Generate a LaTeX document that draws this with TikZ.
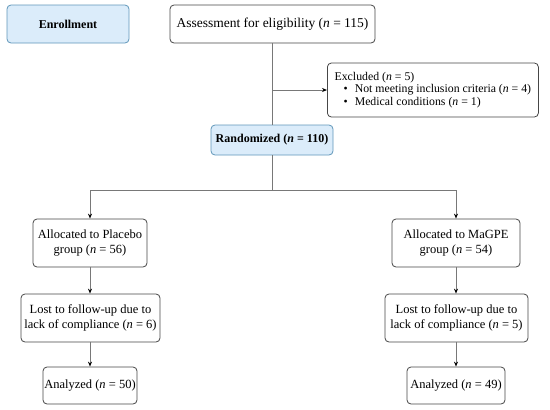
\documentclass[tikz,border=0pt]{standalone}
\usepackage{fontspec}
\setmainfont{Liberation Serif}
\usetikzlibrary{arrows.meta,positioning}
\definecolor{bluefill}{RGB}{219,236,250}
\definecolor{blueline}{RGB}{95,150,185}
\definecolor{boxline}{RGB}{70,70,70}
\definecolor{conn}{RGB}{120,120,120}
\tikzset{
  box/.style={draw=boxline, line width=0.8pt, rounded corners=4pt, fill=white, align=center, inner sep=0pt, font=\fontsize{12.5}{14.5}\selectfont},
  bluebox/.style={draw=blueline, line width=0.8pt, rounded corners=4pt, fill=bluefill, align=center, inner sep=0pt, font=\fontsize{12}{14}\selectfont\bfseries},
  conline/.style={draw=conn, line width=1pt},
  arr/.style={conline, -{Stealth[length=5pt,width=4pt,color=black]}}
}
\begin{document}
\begin{tikzpicture}[x=1pt,y=-1pt]
\useasboundingbox (0,0) rectangle (550,410);
\node[bluebox, minimum width=122pt, minimum height=38pt] (enr) at (68,24) {Enrollment};
\node[box, minimum width=205pt, minimum height=38pt, font=\fontsize{13.5}{15}\selectfont] (ass) at (272.5,24) {Assessment for eligibility (\textit{n} = 115)};
\node[box, minimum width=211pt, minimum height=54pt, align=left, anchor=west, inner xsep=4pt, font=\fontsize{11.8}{12.8}\selectfont] (exc) at (327,90) {Excluded (\textit{n} = 5)\\
\hspace*{9pt}\textbullet\hspace{7pt}Not meeting inclusion criteria (\textit{n} = 4)\\
\hspace*{9pt}\textbullet\hspace{7pt}Medical conditions (\textit{n} = 1)};
\node[bluebox, minimum width=122pt, minimum height=30pt] (ran) at (272,140) {Randomized (\textit{n} = 110)};
\coordinate (ex) at (272,90);
\coordinate (split) at (272,190);
\coordinate (sl) at (90,190);
\coordinate (sr) at (456,190);
\node[box, minimum width=114pt, minimum height=48pt] (pla) at (90,243) {Allocated to Placebo\\group (\textit{n} = 56)};
\node[box, minimum width=139pt, minimum height=48pt] (lpl) at (90.5,318) {Lost to follow-up due to\\lack of compliance (\textit{n} = 6)};
\node[box, minimum width=94pt, minimum height=37pt] (apl) at (90,385.5) {Analyzed (\textit{n} = 50)};
\node[box, minimum width=128pt, minimum height=48pt] (mag) at (456,243) {Allocated to MaGPE\\group (\textit{n} = 54)};
\node[box, minimum width=143pt, minimum height=48pt] (lmg) at (456.5,318) {Lost to follow-up due to\\lack of compliance (\textit{n} = 5)};
\node[box, minimum width=98pt, minimum height=37pt] (amg) at (456,385.5) {Analyzed (\textit{n} = 49)};
\draw[conline] (ass.south -| ran) -- (ran.north);
\draw[arr] (ex) -- (exc.west);
\draw[conline] (ran.south) -- (split);
\draw[conline] (sl) -- (sr);
\draw[arr] (sl) -- (pla.north);
\draw[arr] (sr) -- (mag.north);
\draw[arr] (pla.south) -- (lpl.north -| pla);
\draw[arr] (mag.south) -- (lmg.north -| mag);
\draw[arr] (lpl.south -| pla) -- (apl.north);
\draw[arr] (lmg.south -| mag) -- (amg.north);
\end{tikzpicture}
\end{document}
